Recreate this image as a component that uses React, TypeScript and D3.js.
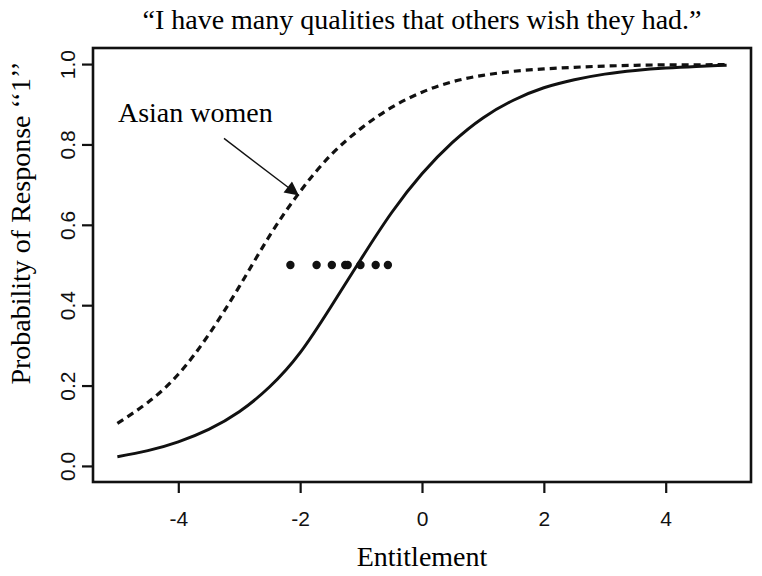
import React, { useRef, useEffect } from "react";
import * as d3 from "d3";

// values, entitlement -5..5 in steps of 0.5
const entitlement = [-5, -4.5, -4, -3.5, -3, -2.5, -2, -1.5, -1, -0.5, 0, 0.5, 1, 1.5, 2, 2.5, 3, 3.5, 4, 4.5, 5];
const probAll = [0.023, 0.038, 0.06, 0.091, 0.135, 0.197, 0.282, 0.395, 0.515, 0.63, 0.727, 0.805, 0.866, 0.91, 0.941, 0.961, 0.975, 0.984, 0.99, 0.994, 0.997];
const probAsianWomen = [0.106, 0.158, 0.228, 0.327, 0.446, 0.573, 0.683, 0.773, 0.84, 0.892, 0.93, 0.956, 0.972, 0.982, 0.988, 0.992, 0.995, 0.997, 0.998, 0.998, 0.999];

// item locations plotted at p = 0.5
const thresholds = [-2.16, -1.73, -1.48, -1.26, -1.22, -1.01, -0.76, -0.56];

const xTicks = [-4, -2, 0, 2, 4];
const yTicks = [0, 0.2, 0.4, 0.6, 0.8, 1.0];

const titleText = "\u201CI have many qualities that others wish they had.\u201D";
const xLabel = "Entitlement";
const yLabel = "Probability of Response \u2018\u20181\u2019\u2019";
const annotation = "Asian women";

const serif = "'Liberation Serif', 'Times New Roman', serif";
const sans = "'Liberation Sans', Arial, sans-serif";

const App = () => {
    const ref = useRef<SVGSVGElement>(null);

    useEffect(() => {
        const svg = d3.select(ref.current);
        svg.selectAll("*").remove();

        const box = { left: 93, right: 751, top: 48, bottom: 482 };
        const x = d3.scaleLinear().domain([-5.4, 5.4]).range([box.left, box.right]);
        const y = d3.scaleLinear().domain([-0.04, 1.04]).range([box.bottom, box.top]);

        // main title
        svg.append("text")
            .attr("x", (box.left + box.right) / 2)
            .attr("y", 29)
            .attr("text-anchor", "middle")
            .attr("font-family", serif)
            .attr("font-size", 28)
            .text(titleText);

        // curves
        const allPts = entitlement.map((e, i) => [e, probAll[i]] as [number, number]);
        const awPts = entitlement.map((e, i) => [e, probAsianWomen[i]] as [number, number]);
        const line = d3.line<[number, number]>()
            .x(d => x(d[0]))
            .y(d => y(d[1]))
            .curve(d3.curveNatural);

        svg.append("path")
            .attr("d", line(awPts))
            .attr("fill", "none")
            .attr("stroke", "#111")
            .attr("stroke-width", 3.2)
            .attr("stroke-dasharray", "7,5");

        svg.append("path")
            .attr("d", line(allPts))
            .attr("fill", "none")
            .attr("stroke", "#111")
            .attr("stroke-width", 3);

        // threshold dots
        svg.append("g")
            .attr("fill", "#111")
            .selectAll("circle")
            .data(thresholds)
            .join("circle")
            .attr("cx", d => x(d))
            .attr("cy", y(0.5))
            .attr("r", 4.2);

        // annotation with arrow
        svg.append("defs").append("marker")
            .attr("id", "arrowhead")
            .attr("viewBox", "0 0 10 10")
            .attr("refX", 10)
            .attr("refY", 5)
            .attr("markerUnits", "userSpaceOnUse")
            .attr("markerWidth", 16)
            .attr("markerHeight", 14)
            .attr("orient", "auto")
            .append("path")
            .attr("d", "M0,0 L10,5 L0,10 Z")
            .attr("fill", "#111");

        svg.append("text")
            .attr("x", x(-4.99))
            .attr("y", y(0.857))
            .attr("font-family", serif)
            .attr("font-size", 28)
            .text(annotation);

        svg.append("line")
            .attr("x1", x(-3.25))
            .attr("y1", y(0.815))
            .attr("x2", x(-2.02))
            .attr("y2", y(0.673))
            .attr("stroke", "#111")
            .attr("stroke-width", 1.4)
            .attr("marker-end", "url(#arrowhead)");

        // axes
        const xAxis = svg.append("g")
            .attr("transform", `translate(0,${box.bottom})`)
            .call(d3.axisBottom(x).tickValues(xTicks).tickSize(11).tickSizeOuter(0).tickPadding(18).tickFormat(d => String(d)));
        xAxis.select(".domain").remove();
        xAxis.selectAll("line").attr("stroke", "#111").attr("stroke-width", 2.2);
        xAxis.selectAll("text")
            .attr("font-family", sans)
            .attr("font-size", 21)
            .attr("fill", "#111");

        const yAxis = svg.append("g")
            .attr("transform", `translate(${box.left},0)`)
            .call(d3.axisLeft(y).tickValues(yTicks).tickSize(11).tickSizeOuter(0).tickFormat(d3.format(".1f")));
        yAxis.select(".domain").remove();
        yAxis.selectAll("line").attr("stroke", "#111").attr("stroke-width", 2.2);
        yAxis.selectAll("text")
            .attr("font-family", sans)
            .attr("font-size", 21)
            .attr("fill", "#111")
            .attr("text-anchor", "middle")
            .attr("x", null)
            .attr("y", null)
            .attr("dy", null)
            .attr("transform", "translate(-18,0) rotate(-90)");

        // plot frame
        svg.append("rect")
            .attr("x", box.left)
            .attr("y", box.top)
            .attr("width", box.right - box.left)
            .attr("height", box.bottom - box.top)
            .attr("fill", "none")
            .attr("stroke", "#111")
            .attr("stroke-width", 2.6);

        // axis titles
        svg.append("text")
            .attr("x", (box.left + box.right) / 2)
            .attr("y", 566)
            .attr("text-anchor", "middle")
            .attr("font-family", serif)
            .attr("font-size", 28)
            .text(xLabel);

        svg.append("text")
            .attr("transform", `translate(30,223) rotate(-90)`)
            .attr("text-anchor", "middle")
            .attr("font-family", serif)
            .attr("font-size", 28)
            .text(yLabel);
    }, []);

    return (
        <div style={{ position: "absolute", left: 0, top: 0, background: "#fff" }}>
            <svg ref={ref} width={762} height={576} />
        </div>
    );
};

export default App;
